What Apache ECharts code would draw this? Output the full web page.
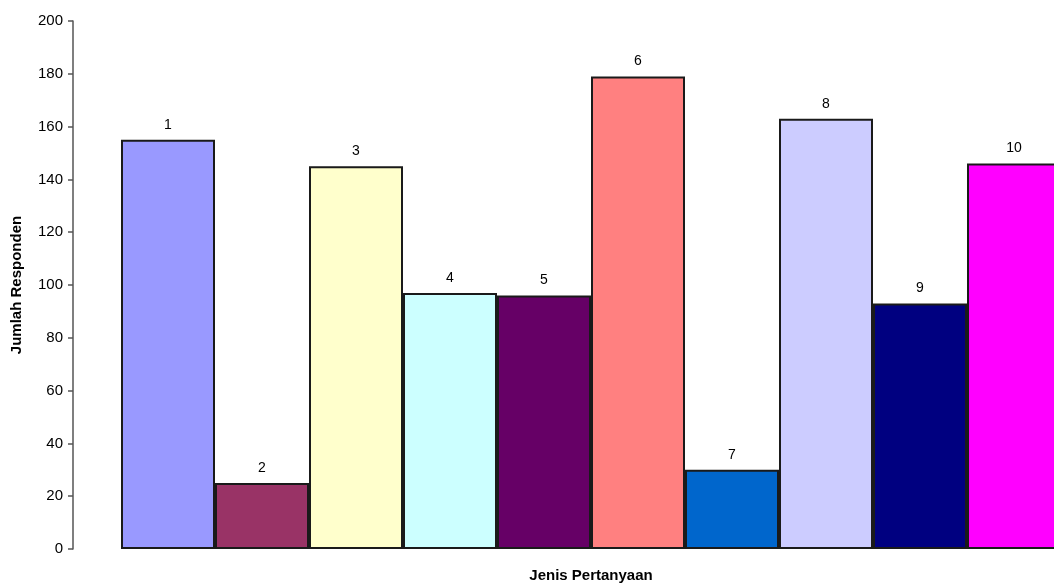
<!DOCTYPE html>
<html><head><meta charset="utf-8">
<script src="https://cdn.jsdelivr.net/npm/echarts@6/dist/echarts.min.js"></script>
<style>html,body{margin:0;padding:0;background:#fff}#c{width:1054px;height:585px}</style>
</head><body><div id="c"></div>
<script>
var categories = ['1','2','3','4','5','6','7','8','9','10'];
var values = [155, 25, 145, 97, 96, 179, 30, 163, 93, 146];
var colors = ['#9999FF','#993366','#FFFFCC','#CCFFFF','#660066','#FF8080','#0066CC','#CCCCFF','#000080','#FF00FF'];
var yTicks = [0,20,40,60,80,100,120,140,160,180,200];

var FF = 'Liberation Sans, Arial, sans-serif';
var chart = echarts.init(document.getElementById('c'));
chart.setOption({
  animation: false,
  textStyle: {fontFamily: FF},
  grid: {left: 121, top: 21, width: 940, bottom: 36, containLabel: false, outerBoundsMode: 'none'},
  xAxis: {
    type: 'category', data: categories,
    axisLine: {show: false}, axisTick: {show: false}, axisLabel: {show: false},
    name: 'Jenis Pertanyaan', nameLocation: 'middle', nameGap: 19,
    nameTextStyle: {fontWeight: 'bold', fontSize: 15, color: '#000', fontFamily: FF}
  },
  yAxis: {
    type: 'value', min: yTicks[0], max: yTicks[yTicks.length-1], interval: 20, offset: 48,
    splitLine: {show: false},
    axisLine: {show: true, lineStyle: {color: '#555', width: 1.5}},
    axisTick: {show: true, inside: false, length: 5, lineStyle: {color: '#555', width: 1.5}},
    axisLabel: {color: '#000', fontSize: 15, margin: 10, fontFamily: FF},
    name: 'Jumlah Responden', nameLocation: 'middle', nameGap: 49, nameRotate: 90,
    nameTextStyle: {fontWeight: 'bold', fontSize: 15, color: '#000', fontFamily: FF}
  },
  series: [{
    type: 'bar', barCategoryGap: '0%', barWidth: '100%',
    data: values.map(function(v, i){ return {value: v, itemStyle: {color: colors[i]}}; }),
    itemStyle: {borderColor: '#1a1a1a', borderWidth: 2},
    label: {show: true, position: 'top', distance: 8, color: '#000', fontSize: 14,
      fontFamily: FF,
      formatter: function(p){ return categories[p.dataIndex]; }}
  }]
});
</script></body></html>
